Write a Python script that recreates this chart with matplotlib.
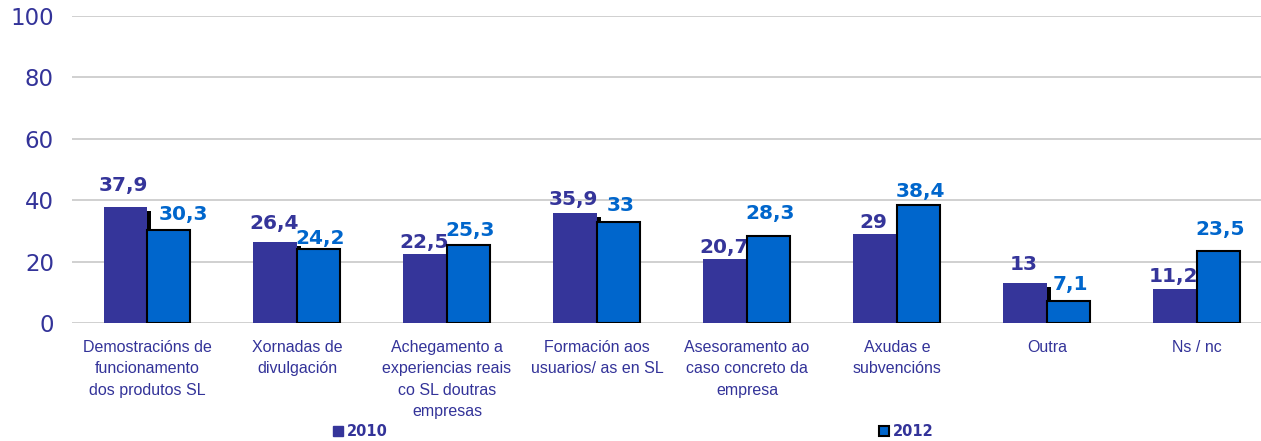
import numpy as np
from matplotlib import pyplot as plt
from matplotlib import patheffects as pe
from matplotlib.patches import Patch

CATEGORIES = [
    "Demostracións de\nfuncionamento\ndos produtos SL",
    "Xornadas de\ndivulgación",
    "Achegamento a\nexperiencias reais\nco SL doutras\nempresas",
    "Formación aos\nusuarios/ as en SL",
    "Asesoramento ao\ncaso concreto da\nempresa",
    "Axudas e\nsubvencións",
    "Outra",
    "Ns / nc",
]
VALUES_2010 = [37.9, 26.4, 22.5, 35.9, 20.7, 29, 13, 11.2]
VALUES_2012 = [30.3, 24.2, 25.3, 33, 28.3, 38.4, 7.1, 23.5]
LABELS_2010 = ["37,9", "26,4", "22,5", "35,9", "20,7", "29", "13", "11,2"]
LABELS_2012 = ["30,3", "24,2", "25,3", "33", "28,3", "38,4", "7,1", "23,5"]

# label placement (gap above bar, in axis units) as laid out in the source chart
GAP_2010 = [3.9, 2.9, 0.7, 1.3, 0.7, 0.7, 2.9, 1.0]
GAP_2012 = [2.0, 0.3, 1.6, 2.3, 4.2, 1.3, 2.3, 3.9]

C2010 = '#35359A'
C2012 = '#0066CC'
NAVY = '#333399'

fig = plt.figure(figsize=(12.61, 4.41), dpi=100)
ax = fig.add_axes([0.0571, 0.2676, 0.9516, 0.696])

x = np.arange(len(CATEGORIES))
w = 0.29
shadow = [pe.SimplePatchShadow(offset=(3, -3), shadow_rgbFace='black', alpha=1.0), pe.Normal()]

b1 = ax.bar(x - w/2, VALUES_2010, w, color=C2010, zorder=3)
for r in b1:
    r.set_path_effects(shadow)
b2 = ax.bar(x + w/2, VALUES_2012, w, color=C2012, edgecolor='black', linewidth=1.5, zorder=4)

for i, (xi, v, s) in enumerate(zip(x, VALUES_2010, LABELS_2010)):
    ax.text(xi - w/2 - 0.01, v + GAP_2010[i], s, ha='center', va='bottom', color=C2010,
            fontsize=14.5, fontweight='bold', family='DejaVu Sans')
for i, (xi, v, s) in enumerate(zip(x, VALUES_2012, LABELS_2012)):
    dx = 0.095 if i == 0 else 0.01
    ax.text(xi + w/2 + dx, v + GAP_2012[i], s, ha='center', va='bottom', color=C2012,
            fontsize=14.5, fontweight='bold', family='DejaVu Sans')

ax.set_ylim(0, 100)
ax.set_xlim(-0.5, len(CATEGORIES) - 0.5)
ax.set_yticks(range(0, 101, 20))
ax.yaxis.grid(True, color='#C8C8C8', linewidth=1.2, zorder=0)
ax.set_axisbelow(True)
for sp in ['top', 'right', 'left', 'bottom']:
    ax.spines[sp].set_visible(False)
ax.tick_params(axis='y', length=0, labelsize=16.5, labelcolor=NAVY, pad=13)
ax.tick_params(axis='x', length=0, pad=12)
ax.set_xticks(x)
ax.set_xticklabels(CATEGORIES, fontsize=11.5, color=NAVY, family='Liberation Sans', linespacing=1.55)

legprops = {'weight': 'bold', 'size': 10.5, 'family': 'DejaVu Sans'}
h1 = Patch(facecolor=C2010, edgecolor=C2010)
h2 = Patch(facecolor=C2012, edgecolor='black', linewidth=1.5)
for h, lab, xpos in [(h1, '2010', 0.258), (h2, '2012', 0.691)]:
    leg = fig.legend(handles=[h], labels=[lab], loc='center left',
                     bbox_to_anchor=(xpos, 0.021), frameon=False,
                     handlelength=0.7, handleheight=0.7, handletextpad=0.3,
                     borderpad=0, prop=legprops)
    for t in leg.get_texts():
        t.set_color(NAVY)

fig.savefig('out.png', dpi=100)
